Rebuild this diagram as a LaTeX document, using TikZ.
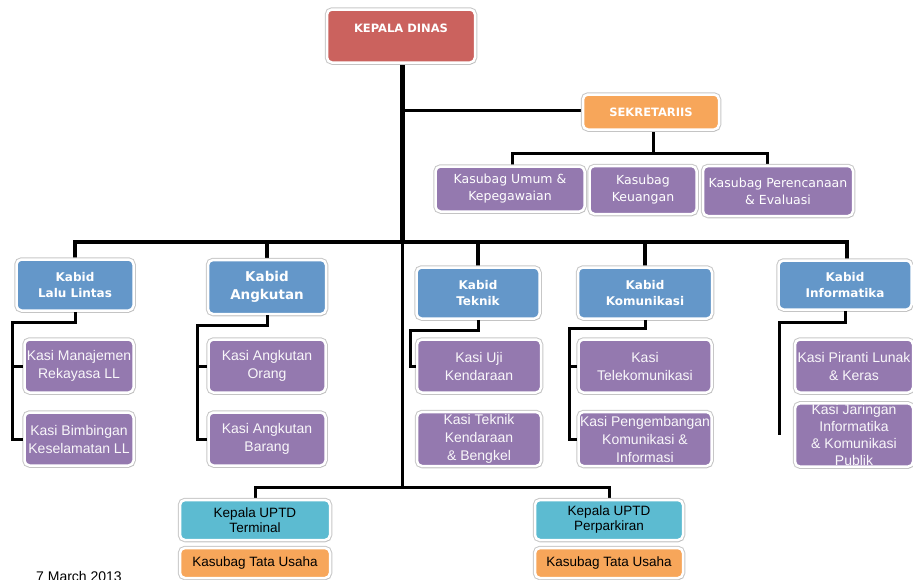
\documentclass[tikz,border=0pt]{standalone}
\usepackage{fontspec}
\setmainfont{Liberation Sans}
\newfontfamily\hdfont{DejaVu Sans}
\usetikzlibrary{shadows}
\definecolor{DinasRed}{HTML}{CB625E}
\definecolor{SekOrange}{HTML}{F7A65A}
\definecolor{KabidBlue}{HTML}{6497C9}
\definecolor{KasiPurple}{HTML}{9479AF}
\definecolor{UptdCyan}{HTML}{5CBBD1}

\begin{document}
\begin{tikzpicture}[x=1pt, y=-1pt,
    orgbox/.style={draw=white, line width=2.5pt, rounded corners=5pt, text=white,
        align=center, inner sep=1pt,
        preaction={draw=black!22, line width=4.5pt},
        drop shadow={shadow xshift=0.8pt, shadow yshift=-1.5pt, opacity=0.3}},
    boxsize/.style 2 args={minimum width=#1, minimum height=#2},
    headbox/.style={orgbox, font=\hdfont\bfseries\fontsize{12}{16}\selectfont},
    subbox/.style={orgbox, fill=KasiPurple, font=\hdfont\fontsize{12.5}{17}\selectfont},
    kabidbox/.style={headbox, fill=KabidBlue},
    kasibox/.style={orgbox, fill=KasiPurple, text=white!94!KasiPurple,
        font=\fontsize{14}{18}\selectfont},
    uptdbox/.style={orgbox, text=black, font=\fontsize{13.5}{15}\selectfont},
    trunk/.style={line width=5pt},
    bar/.style={line width=4pt},
    branch/.style={line width=3pt}]

    \useasboundingbox (0,0) rectangle (913,579);
    \clip (0,0) rectangle (913,579);

    % Named points on the trunk
    \coordinate (kbar) at (402,242);
    \coordinate (ubar) at (402,487);

    % Connectors first, boxes on top
    \draw[trunk] (402,63) -- (kbar);
    \draw[branch] (kbar) -- (ubar);
    \draw[branch] (402,110) -- (583,110);
    \draw[branch] (653,130) -- (653,153);
    \draw[branch] (512,166) |- (653,153) -| (767,166);
    \draw[bar] (75,260) |- (kbar) -| (847,260);
    \draw[bar] (267,260) -- (267,242);
    \draw[bar] (478,268) -- (478,242);
    \draw[bar] (645,268) -- (645,242);
    \draw[branch] (255,500) |- (ubar) -| (609,500);

    % Kepala Dinas and Sekretariat
    \node[headbox, fill=DinasRed, boxsize={148pt}{53pt},
        font=\hdfont\bfseries\fontsize{11.5}{14}\selectfont] (dinas) at (401,36) {KEPALA DINAS\\[2pt]~};
    \node[headbox, fill=SekOrange, boxsize={136pt}{35pt},
        font=\hdfont\bfseries\fontsize{11.5}{14}\selectfont] (sek) at (651,112) {SEKRETARIIS};
    \node[subbox, boxsize={149pt}{45pt}] (umum) at (510,189) {Kasubag Umum \&\\Kepegawaian};
    \node[subbox, boxsize={107pt}{48pt}] (keu) at (643,190) {Kasubag\\Keuangan};
    \node[subbox, boxsize={150pt}{50pt}] (renc) at (778,191) {Kasubag Perencanaan\\\& Evaluasi};

    % Kabid
    \node[kabidbox, boxsize={117pt}{51pt}] (llt) at (75,285) {Kabid\\Lalu Lintas};
    \node[kabidbox, boxsize={118pt}{54pt},
        font=\hdfont\bfseries\fontsize{13.5}{18}\selectfont] (ang) at (267,287) {Kabid\\Angkutan};
    \node[kabidbox, boxsize={123pt}{51pt}] (tek) at (478,293) {Kabid\\Teknik};
    \node[kabidbox, boxsize={134pt}{51pt}] (kom) at (645,293) {Kabid\\Komunikasi};
    \node[kabidbox, boxsize={133pt}{49pt}] (inf) at (845,285) {Kabid\\Informatika};

    % Kasi under each Kabid
    \node[kasibox, boxsize={109pt}{53pt}] (kmr) at (79,366) {Kasi Manajemen\\Rekayasa LL};
    \node[kasibox, boxsize={109pt}{53pt}] (kbk) at (79,439) {Kasi Bimbingan\\Keselamatan LL};
    \node[kasibox, boxsize={117pt}{53pt}] (kao) at (267,366) {Kasi Angkutan\\Orang};
    \node[kasibox, boxsize={117pt}{53pt}] (kab) at (267,439) {Kasi Angkutan\\Barang};
    \node[kasibox, boxsize={124pt}{53pt}] (kuk) at (479,366) {Kasi Uji\\Kendaraan};
    \node[kasibox, boxsize={124pt}{54pt}] (ktk) at (479,439) {Kasi Teknik\\Kendaraan\\\& Bengkel};
    \node[kasibox, boxsize={133pt}{53pt}] (ktl) at (645,366) {Kasi\\Telekomunikasi};
    \node[kasibox, boxsize={133pt}{54pt}] (kpk) at (645,439) {Kasi Pengembangan\\Komunikasi \&\\Informasi};
    \node[kasibox, boxsize={118pt}{53pt}] (kpl) at (854,366) {Kasi Piranti Lunak\\\& Keras};
    \node[kasibox, boxsize={118pt}{61pt}, font=\fontsize{14}{17}\selectfont] (kjk) at (854,435) {Kasi Jaringan\\Informatika\\\& Komunikasi\\Publik};

    % Kabid to Kasi
    \draw[branch] (llt.south) |- (12,322) |- (kmr.west);
    \draw[branch] (12,366) |- (kbk.west);
    \draw[branch] (ang.south) |- (197,325) |- (kao.west);
    \draw[branch] (197,366) |- (kab.west);
    \draw[branch] (tek.south) |- (410,330) |- (kuk.west);
    \draw[branch] (kom.south) |- (569,328) |- (ktl.west);
    \draw[branch] (569,366) |- (kpk.west);
    \draw[branch] (inf.south) |- (779,322) -- (779,435);

    % UPTD
    \node[uptdbox, fill=UptdCyan, boxsize={150pt}{40pt}] (utrm) at (255,520) {Kepala UPTD\\Terminal};
    \node[uptdbox, fill=UptdCyan, boxsize={148pt}{40pt}] (uprk) at (609,520) {Kepala UPTD\\Perparkiran};
    \node[uptdbox, fill=SekOrange, boxsize={150pt}{30pt}] (tutrm) at (255,563) {Kasubag Tata Usaha};
    \node[uptdbox, fill=SekOrange, boxsize={148pt}{30pt}] (tuprk) at (609,563) {Kasubag Tata Usaha};

    % Date
    \node[anchor=north, font=\fontsize{14}{16}\selectfont] (tanggal) at (79,568) {7 March 2013};
\end{tikzpicture}
\end{document}
